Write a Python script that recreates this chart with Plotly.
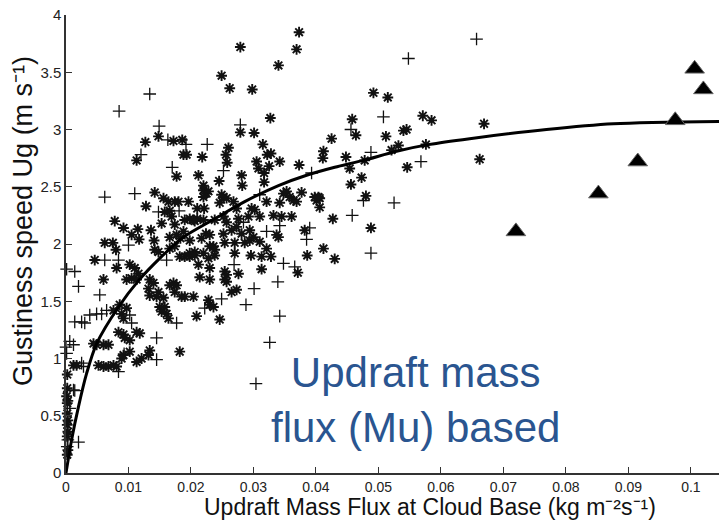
import plotly.graph_objects as go

# ---------------- data ----------------
star_x = [0.0373, 0.0369, 0.0279, 0.0340, 0.0249, 0.0262, 0.0298, 0.0327, 0.0279, 0.0301,
          0.0148, 0.0127, 0.0172, 0.0186, 0.0188, 0.0193, 0.0113, 0.0218, 0.0256, 0.0258,
          0.0315, 0.0322, 0.0328, 0.0342, 0.0305, 0.0308, 0.0325, 0.0373, 0.0177, 0.0212,
          0.0245, 0.0281, 0.0282, 0.0317, 0.0317, 0.0412, 0.0411, 0.0425, 0.0448, 0.0454,
          0.0458, 0.0464, 0.0492, 0.0515, 0.0512, 0.0473, 0.0456, 0.0480, 0.0488, 0.0427,
          0.0406, 0.0401, 0.0406, 0.0142, 0.0128, 0.0078, 0.0092, 0.0115, 0.0136, 0.0105,
          0.0062, 0.0075, 0.0117, 0.0141, 0.0156, 0.0164, 0.0174, 0.0180, 0.0166, 0.0153,
          0.0174, 0.0196, 0.0210, 0.0221, 0.0220, 0.0225, 0.0210, 0.0220, 0.0238, 0.0252,
          0.0252, 0.0246, 0.0268, 0.0273, 0.0204, 0.0224, 0.0257, 0.0273, 0.0281, 0.0292,
          0.0302, 0.0310, 0.0321, 0.0332, 0.0342, 0.0348, 0.0353, 0.0358, 0.0364, 0.0369,
          0.0377, 0.0361, 0.0345, 0.0340, 0.0382, 0.0321, 0.0412, 0.0230, 0.0236, 0.0294,
          0.0300, 0.0310, 0.0174, 0.0198, 0.0183, 0.0571, 0.0585, 0.0540, 0.0545, 0.0532,
          0.0521, 0.0576, 0.0669, 0.0662, 0.0546, 0.0430, 0.0478, 0.0386, 0.0371, 0.0337,
          0.0313, 0.0328, 0.0296, 0.0270, 0.0313, 0.0276, 0.0254, 0.0257, 0.0254, 0.0265,
          0.0273, 0.0230, 0.0228, 0.0212, 0.0214, 0.0238, 0.0228, 0.0230, 0.0236, 0.0209,
          0.0246, 0.0217, 0.0230, 0.0252, 0.0265, 0.0294, 0.0270, 0.0254, 0.0286, 0.0206,
          0.0220, 0.0238, 0.0260, 0.0220, 0.0228, 0.0220, 0.0249, 0.0257, 0.0398, 0.0404,
          0.0297, 0.0276, 0.0158, 0.0169, 0.0190, 0.0198, 0.0206, 0.0142, 0.0148, 0.0080,
          0.0166, 0.0177, 0.0188, 0.0198, 0.0166, 0.0182, 0.0190, 0.0198, 0.0206, 0.0046,
          0.0081, 0.0102, 0.0110, 0.0116, 0.0105, 0.0113, 0.0097, 0.0134, 0.0140, 0.0132,
          0.0148, 0.0134, 0.0145, 0.0156, 0.0150, 0.0166, 0.0172, 0.0177, 0.0174, 0.0185,
          0.0190, 0.0204, 0.0153, 0.0158, 0.0161, 0.0164, 0.0060, 0.0076, 0.0086, 0.0097,
          0.0089, 0.0092, 0.0084, 0.0092, 0.0094, 0.0102, 0.0113, 0.0118, 0.0044, 0.0049,
          0.0060, 0.0068, 0.0092, 0.0102, 0.0089, 0.0134, 0.0132, 0.0121, 0.0113, 0.0182,
          0.0012, 0.0017, 0.0052, 0.0060, 0.0068, 0.0076, 0.0081, 0.0002, 0.0002, 0.0001,
          0.0003, 0.0002, 0.0003, 0.0002, 0.0003, 0.0002, 0.0003, 0.0002, 0.0257, 0.0230,
          0.0002]
star_y = [3.85, 3.70, 3.72, 3.56, 3.47, 3.36, 3.35, 3.10, 2.975, 2.97,
          2.94, 2.89, 2.90, 2.91, 2.78, 2.78, 2.73, 2.76, 2.78, 2.71,
          2.87, 2.78, 2.79, 2.72, 2.72, 2.66, 2.68, 2.69, 2.59, 2.60,
          2.55, 2.60, 2.51, 2.62, 2.54, 2.81, 2.75, 2.92, 2.76, 2.66,
          3.09, 2.95, 3.32, 3.28, 2.94, 2.58, 2.52, 2.42, 2.14, 2.22,
          2.40, 2.38, 2.32, 2.45, 2.33, 2.20, 2.14, 2.13, 2.12, 2.08,
          2.01, 2.01, 2.04, 2.03, 2.40, 2.37, 2.37, 2.37, 2.29, 2.18,
          2.17, 2.37, 2.31, 2.31, 2.47, 2.44, 2.22, 2.21, 2.21, 2.24,
          2.41, 2.36, 2.37, 2.31, 2.21, 2.09, 2.19, 2.15, 2.09, 2.24,
          2.30, 2.24, 2.37, 2.25, 2.36, 2.44, 2.46, 2.41, 2.38, 2.37,
          2.45, 2.24, 2.24, 2.06, 2.12, 1.96, 1.96, 1.98, 1.98, 2.03,
          2.06, 2.02, 1.98, 2.03, 2.05, 3.12, 3.08, 2.99, 3.00, 2.86,
          2.82, 2.87, 3.05, 2.74, 2.67, 1.87, 2.73, 1.90, 1.75, 2.08,
          1.89, 1.89, 1.90, 1.92, 1.78, 1.74, 1.76, 1.73, 1.69, 1.58,
          1.60, 1.79, 1.875, 1.82, 1.71, 1.95, 1.51, 1.47, 1.45, 1.37,
          1.34, 2.05, 2.08, 2.09, 2.12, 2.12, 2.01, 2.01, 2.01, 1.93,
          1.92, 1.90, 2.84, 2.51, 2.46, 2.41, 2.43, 2.40, 2.41, 2.41,
          2.31, 2.22, 2.28, 2.24, 2.21, 2.22, 2.20, 1.95, 1.93, 1.95,
          2.06, 2.08, 2.11, 1.92, 1.96, 1.89, 1.89, 1.89, 1.90, 1.86,
          1.79, 1.82, 1.79, 1.74, 1.70, 1.69, 1.69, 1.69, 1.66, 1.61,
          1.58, 1.55, 1.54, 1.53, 1.45, 1.64, 1.66, 1.64, 1.58, 1.54,
          1.54, 1.54, 1.41, 1.45, 1.39, 1.35, 1.69, 1.42, 1.47, 1.44,
          1.39, 1.35, 1.23, 1.21, 1.18, 1.16, 1.23, 1.22, 1.13, 1.12,
          1.12, 1.12, 1.03, 1.06, 1.00, 1.07, 1.03, 1.00, 0.97, 1.06,
          0.94, 0.94, 0.94, 0.93, 0.93, 0.94, 0.93, 0.86, 0.74, 0.67,
          0.63, 0.52, 0.46, 0.42, 0.36, 0.32, 0.20, 0.16, 1.67, 1.69,
          0.61]

plus_x = [0.0085, 0.0134, 0.0149, 0.0163, 0.0192, 0.0226, 0.0279, 0.0120, 0.0170, 0.0252,
          0.0062, 0.0110, 0.0181, 0.0148, 0.0310, 0.0456, 0.0508, 0.0488, 0.0393, 0.0458,
          0.0385, 0.0390, 0.0342, 0.0321, 0.0100, 0.0476, 0.0284, 0.0657, 0.0548, 0.0568,
          0.0525, 0.0488, 0.0348, 0.0366, 0.0339, 0.0301, 0.0269, 0.0249, 0.0288, 0.0342,
          0.0326, 0.0222, 0.0161, 0.0062, 0.0001, 0.0014, 0.0084, 0.0020, 0.0054, 0.0014,
          0.0025, 0.0030, 0.0038, 0.0049, 0.0057, 0.0065, 0.0102, 0.0105, 0.0145, 0.0177,
          0.0006, 0.0012, 0.0001, 0.0145, 0.0025, 0.0028, 0.0084, 0.0093, 0.0012, 0.0006,
          0.0020, 0.0003, 0.0002, 0.0304, 0.0000, 0.0014]
plus_y = [3.16, 3.31, 3.03, 2.91, 2.87, 2.87, 3.04, 2.78, 2.67, 2.64,
          2.41, 2.44, 2.29, 2.28, 2.43, 3.00, 3.11, 2.80, 2.62, 2.25,
          2.04, 2.14, 2.16, 2.11, 1.99, 2.38, 2.19, 3.79, 3.62, 2.72,
          2.36, 1.92, 1.83, 1.80, 1.67, 1.61, 1.82, 1.52, 1.47, 1.37,
          1.14, 1.44, 1.86, 1.86, 1.78, 1.76, 1.86, 1.63, 1.555, 1.32,
          1.32, 1.31, 1.38, 1.39, 1.39, 1.42, 1.38, 1.31, 1.18, 1.31,
          1.15, 1.12, 1.045, 0.99, 0.96, 0.93, 0.885, 1.04, 0.725, 0.565,
          0.27, 0.29, 0.23, 0.78, 1.10, 0.72]

tri_x = [0.0720, 0.0852, 0.0915, 0.0975, 0.1006, 0.1020]
tri_y = [2.11, 2.44, 2.72, 3.08, 3.53, 3.35]

fit_x = [0.0, 0.0009, 0.002, 0.0033, 0.0049, 0.0084, 0.0116, 0.015, 0.0188, 0.0238,
         0.0286, 0.034, 0.0385, 0.043, 0.0476, 0.0529, 0.0582, 0.0646, 0.0769, 0.0876, 0.1045]
fit_y = [0.0, 0.29, 0.58, 0.87, 1.13, 1.45, 1.68, 1.875, 2.06, 2.22,
         2.37, 2.51, 2.60, 2.67, 2.73, 2.81, 2.87, 2.92, 3.00, 3.05, 3.07]

x_ticks = [0, 0.01, 0.02, 0.03, 0.04, 0.05, 0.06, 0.07, 0.08, 0.09, 0.1]
x_labels = ["0", "0.01", "0.02", "0.03", "0.04", "0.05", "0.06", "0.07", "0.08", "0.09", "0.1"]
y_ticks = [0, 0.5, 1, 1.5, 2, 2.5, 3, 3.5, 4]
y_labels = ["0", "0.5", "1", "1.5", "2", "2.5", "3", "3.5", "4"]

# ---------------- figure ----------------
fig = go.Figure()

fig.add_trace(go.Scatter(
    x=plus_x, y=plus_y, mode="markers", cliponaxis=False,
    marker=dict(symbol="cross-thin-open", size=9, color="#111",
                line=dict(color="#111", width=1.3))))

fig.add_trace(go.Scatter(
    x=star_x, y=star_y, mode="markers", cliponaxis=False,
    marker=dict(symbol="asterisk-open", size=9, color="#111",
                line=dict(color="#111", width=1.9))))

fig.add_trace(go.Scatter(
    x=fit_x, y=fit_y, mode="lines", cliponaxis=False,
    line=dict(color="black", width=3, shape="spline", smoothing=0.8)))

fig.add_trace(go.Scatter(
    x=tri_x, y=tri_y, mode="markers", cliponaxis=False,
    marker=dict(symbol="triangle-up", size=17, color="black",
                line=dict(color="#666", width=1))))

font_family = "Liberation Sans, Arial, Helvetica, sans-serif"

fig.update_layout(
    width=719, height=522,
    margin=dict(l=66, r=0, t=15, b=49),
    paper_bgcolor="white", plot_bgcolor="white",
    showlegend=False,
    font=dict(family=font_family, color="#222"),
    xaxis=dict(range=[0, 0.1045], showgrid=False, zeroline=False,
               showline=True, linecolor="#333", linewidth=1.5,
               ticks="inside", ticklen=6, tickwidth=1.2, tickcolor="#333",
               tickvals=x_ticks, ticktext=x_labels,
               tickfont=dict(size=14, color="#222")),
    yaxis=dict(range=[0, 4], showgrid=False, zeroline=False,
               showline=True, linecolor="#333", linewidth=1.5,
               ticks="inside", ticklen=6, tickwidth=1.2, tickcolor="#333",
               tickvals=y_ticks, ticktext=y_labels,
               tickfont=dict(size=15, color="#222")),
    annotations=[
        dict(text="Updraft Mass Flux at Cloud Base (kg m⁻²s⁻¹)",
             xref="paper", yref="paper", x=0.557, y=-0.107,
             xanchor="center", yanchor="bottom", showarrow=False,
             font=dict(size=23, color="#111", family=font_family)),
        dict(text="Gustiness speed Ug (m s⁻¹)",
             xref="paper", yref="paper", x=-0.066, y=0.55, textangle=-90,
             xanchor="center", yanchor="middle", showarrow=False,
             font=dict(size=27, color="#111", family=font_family)),
        dict(text="Updraft mass<br>flux (Mu) based",
             xref="x", yref="y", x=0.056, y=0.64,
             xanchor="center", yanchor="middle", showarrow=False,
             font=dict(size=42, color="#2a5590", family=font_family)),
    ],
)

fig.write_html("out.html")
